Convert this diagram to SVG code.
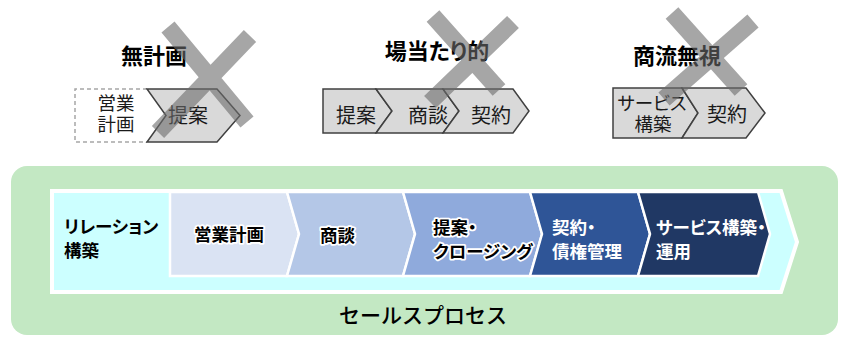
<svg xmlns="http://www.w3.org/2000/svg" width="850" height="346" viewBox="0 0 850 346">
<style>
text{font-family:"Noto Sans CJK JP","Noto Sans",sans-serif;font-feature-settings:"palt" 1}
.title{font-size:22px;font-weight:700;fill:#000;text-anchor:middle}
.gt{font-size:20px;fill:#1a1a1a;text-anchor:middle}
.gt2{font-size:18.5px;fill:#1a1a1a;text-anchor:middle}
.gchev{fill:#D9D9D9;stroke:#404040;stroke-width:1.5;stroke-linejoin:miter}
.xmark{stroke:#6B6B6B;stroke-width:17;stroke-opacity:0.6;fill:none}
.seg{stroke:#fff;stroke-width:2.5}
.bt{font-size:17.5px;font-weight:700;fill:#000}
.halo{stroke:#fff;stroke-width:3.5;stroke-linejoin:round;paint-order:stroke}
.wt{font-size:17.5px;font-weight:700;fill:#fff}
</style>
<rect width="850" height="346" fill="#fff"/>

<g id="bad1">
  <path d="M147,89 H75 V142 H147" fill="none" stroke="#A6A6A6" stroke-width="1.5" stroke-dasharray="4 3"/>
  <text class="gt2" x="116" y="110">営業</text>
  <text class="gt2" x="116" y="131">計画</text>
  <polygon class="gchev" points="147,89 217,89 240,115.5 217,142 147,142 166,115.5"/>
  <text class="gt" x="188" y="123">提案</text>
  <text class="title" x="154" y="64">無計画</text>
  <path class="xmark" d="M168,27 L247,122 M250,36 L158,132"/>
</g>

<g id="bad2">
  <polygon class="gchev" points="323,89 376,89 392,111 376,133 323,133"/>
  <polygon class="gchev" points="376,89 443,89 459,111 443,133 376,133 392,111"/>
  <polygon class="gchev" points="443,89 513,89 529,111 513,133 443,133 459,111"/>
  <text class="gt" x="356" y="122.5">提案</text>
  <text class="gt" x="428" y="122.5">商談</text>
  <text class="gt" x="491" y="122.5">契約</text>
  <text class="title" x="437" y="59">場当たり的</text>
  <path class="xmark" d="M433,16 L499,90 M513,22 L430,102"/>
</g>

<g id="bad3">
  <polygon class="gchev" points="613,88 682,88 698,113 682,138 613,138"/>
  <polygon class="gchev" points="682,88 746,88 765,113 746,138 682,138 698,113"/>
  <text class="gt2" x="652" y="110">サービス</text>
  <text class="gt2" x="653" y="131">構築</text>
  <text class="gt" x="727" y="121.5">契約</text>
  <text class="title" x="677" y="64">商流無視</text>
  <path class="xmark" d="M672,13 L741,90 M753,21 L664,99"/>
</g>

<g id="process">
  <rect x="11" y="166" width="827" height="169" rx="16" fill="#C3E8C3"/>
  <path d="M52,191 L781,191 L797,242 L781,292 L52,292 Z" fill="#CCFFFF" stroke="#fff" stroke-width="4"/>
  <text class="bt" x="64" y="233">リレーション</text>
  <text class="bt" x="64" y="257">構築</text>
  <text x="423" y="323" font-size="21" font-weight="500" text-anchor="middle" fill="#000" style="font-feature-settings:normal">セールスプロセス</text>
</g>

<g id="seg1">
  <polygon class="seg" fill="#DAE3F3" points="170,192 287,192 299,234 287,276 170,276"/>
  <text class="bt halo" x="229" y="241" text-anchor="middle">営業計画</text>
</g>
<g id="seg2">
  <polygon class="seg" fill="#B4C7E7" points="287,192 403,192 415,234 403,276 287,276 299,234"/>
  <text class="bt halo" x="320" y="242">商談</text>
</g>
<g id="seg3">
  <polygon class="seg" fill="#8FAADC" points="403,192 530,192 542,234 530,276 403,276 415,234"/>
  <text class="bt halo" x="433" y="234">提案・</text>
  <text class="bt halo" x="433" y="258" font-size="16.5">クロージング</text>
</g>
<g id="seg4">
  <polygon class="seg" fill="#2F5597" points="530,192 638,192 650,234 638,276 530,276 542,234"/>
  <text class="wt" x="552" y="234">契約・</text>
  <text class="wt" x="552" y="258">債権管理</text>
</g>
<g id="seg5">
  <polygon class="seg" fill="#203864" points="638,192 758,192 770,234 758,276 638,276 650,234"/>
  <text class="wt" x="656" y="234">サービス構築・</text>
  <text class="wt" x="656" y="258">運用</text>
</g>
<g id="connectors"></g>
</svg>
